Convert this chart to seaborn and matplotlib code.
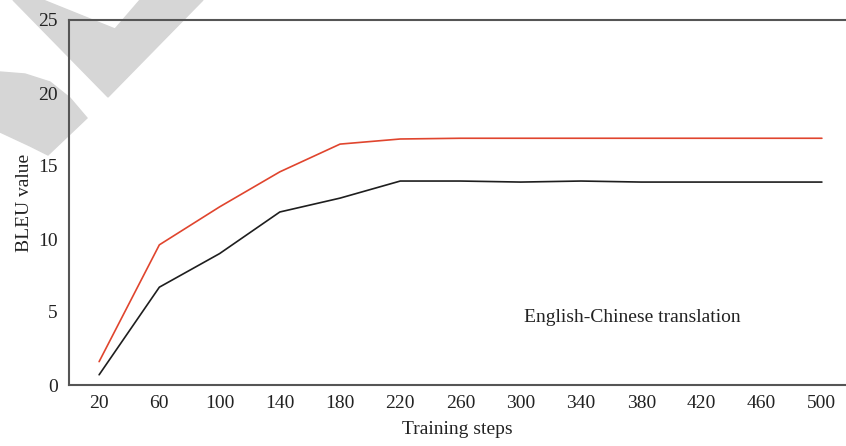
import numpy as np
import pandas as pd
import seaborn as sns
import matplotlib.pyplot as plt
from matplotlib.patches import Polygon

# values
steps = [20, 60, 100, 140, 180, 220, 260, 300, 340, 380, 420, 460, 500]
bleu_red = [1.6, 9.6, 12.2, 14.6, 16.5, 16.85, 16.9, 16.9, 16.9, 16.9, 16.9, 16.9, 16.9]
bleu_black = [0.7, 6.7, 9.0, 11.85, 12.8, 13.97, 13.97, 13.9, 13.97, 13.9, 13.9, 13.9, 13.9]

df = pd.DataFrame({
    'step': [str(s) for s in steps] * 2,
    'bleu': bleu_red + bleu_black,
    'series': ['red'] * len(steps) + ['black'] * len(steps),
})

sns.set_style('white')
plt.rcParams['font.family'] = ['Liberation Serif', 'DejaVu Serif']

fig = plt.figure(figsize=(8.46, 4.46), dpi=100)
W, H = 846, 446

# grey watermark shapes in the top-left corner (pixel coords)
def px(pts):
    return [(x / W, 1 - y / H) for x, y in pts]

fig.patches.append(Polygon(px([(13, 0), (43, 0), (115, 29), (140, 0), (203, 0), (108, 97)]),
                           closed=True, transform=fig.transFigure, color='#d6d6d6', zorder=-5))
fig.patches.append(Polygon(px([(0, 72), (25, 74), (50, 82), (70, 98), (87, 118), (48, 155),
                               (30, 146), (0, 132)]),
                           closed=True, transform=fig.transFigure, color='#d6d6d6', zorder=-5))

ax = fig.add_axes([69 / W, 1 - 385 / H, (W - 69) / W, (385 - 20) / H])
ax.patch.set_alpha(0)

sns.lineplot(data=df, x='step', y='bleu', hue='series', sort=False,
             palette={'red': '#e0452e', 'black': '#1e1e1e'}, linewidth=1.2,
             legend=False, ax=ax)

ax.set_xlim(-0.5, 12.4)
ax.set_ylim(0, 25)
ax.set_yticks([0, 5, 10, 15, 20, 25])

for side in ['left', 'top', 'bottom']:
    ax.spines[side].set_visible(True)
    ax.spines[side].set_color('#555555')
    ax.spines[side].set_linewidth(1.5)
ax.spines['right'].set_visible(False)

ax.tick_params(axis='both', length=0, labelsize=14, colors='#222222')
ax.tick_params(axis='y', pad=8)
ax.tick_params(axis='x', pad=7)

ax.set_xlabel('Training steps', fontsize=14, color='#222222', labelpad=7)
ax.set_ylabel('BLEU value', fontsize=14, color='#222222', labelpad=4)

ax.text(8.85, 4.6, 'English-Chinese translation', fontsize=14, color='#222222',
        ha='center', va='center')

fig.savefig('out.png', dpi=100)
